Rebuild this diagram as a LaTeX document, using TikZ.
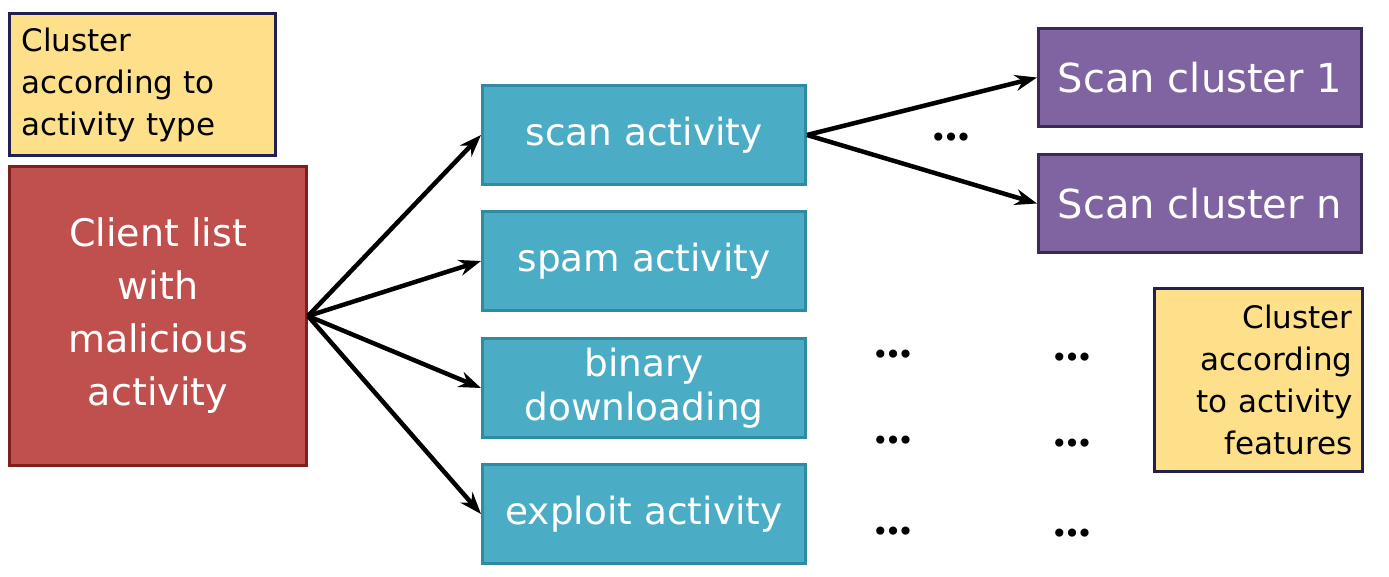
\documentclass[tikz,border=0pt]{standalone}
\usepackage{fontspec}
\setmainfont{DejaVu Sans}
\usetikzlibrary{arrows.meta}
\definecolor{noteyellow}{HTML}{FEE08A}
\definecolor{notedraw}{HTML}{22204F}
\definecolor{redfill}{HTML}{C0504D}
\definecolor{reddraw}{HTML}{7E1F1C}
\definecolor{bluefill}{HTML}{4BACC6}
\definecolor{bluedraw}{HTML}{2F8AA3}
\definecolor{purplefill}{HTML}{8064A2}
\definecolor{purpledraw}{HTML}{3B2B52}
\begin{document}
\begin{tikzpicture}[x=1pt,y=-1pt,
  box/.style={draw, line width=3pt, inner sep=0pt, anchor=north west, text=white},
  note/.style={box, fill=noteyellow, draw=notedraw, text=black, font=\fontsize{31}{42}\selectfont},
  srcbox/.style={box, fill=redfill, draw=reddraw, align=center, font=\fontsize{38}{53}\selectfont},
  actbox/.style={box, fill=bluefill, draw=bluedraw, minimum width=323pt, minimum height=99pt, align=center, font=\fontsize{37.5}{44}\selectfont},
  clubox/.style={box, fill=purplefill, draw=purpledraw, minimum width=323pt, minimum height=98pt, font=\fontsize{40}{44}\selectfont},
  arr/.style={line width=4.5pt, -{Stealth[length=22pt,width=16pt]}},
  dotrow/.style={inner sep=0pt, font=\fontsize{28}{28}\selectfont}
]
\useasboundingbox (0,0) rectangle (1389,577);

\node[note, minimum width=266pt, minimum height=142pt, text width=242pt, align=left] (typenote) at (8,12) {Cluster\\according to\\activity type};
\node[srcbox, minimum width=297pt, minimum height=299pt, text depth=8pt] (src) at (8,165) {Client list\\with\\malicious\\activity};

\node[actbox] (scan) at (481,84) {scan activity};
\node[actbox] (spam) at (481,210) {spam activity};
\node[actbox] (binary) at (481,337) {binary\\downloading};
\node[actbox] (exploit) at (481,463) {exploit activity};

\node[clubox] (c1) at (1037,27) {Scan cluster 1};
\node[clubox] (cn) at (1037,153) {Scan cluster n};

\node[note, minimum width=208pt, minimum height=183pt, text width=188pt, align=right] (featnote) at (1153,287) {Cluster\\according\\to activity\\features};

\draw[arr] (src.east) -- (scan.west);
\draw[arr] (src.east) -- (spam.west);
\draw[arr] (src.east) -- (binary.west);
\draw[arr] (src.east) -- (exploit.west);
\draw[arr] (scan.east) -- (c1.west);
\draw[arr] (scan.east) -- (cn.west);

\node[dotrow] (d0) at (951,140) {•\kern-4pt•\kern-4pt•};
\node[dotrow] (d1) at (893,357) {•\kern-4pt•\kern-4pt•};
\node[dotrow] (d2) at (1072,360) {•\kern-4pt•\kern-4pt•};
\node[dotrow] (d3) at (893,443) {•\kern-4pt•\kern-4pt•};
\node[dotrow] (d4) at (1072,446) {•\kern-4pt•\kern-4pt•};
\node[dotrow] (d5) at (893,534) {•\kern-4pt•\kern-4pt•};
\node[dotrow] (d6) at (1072,536) {•\kern-4pt•\kern-4pt•};
\end{tikzpicture}
\end{document}
